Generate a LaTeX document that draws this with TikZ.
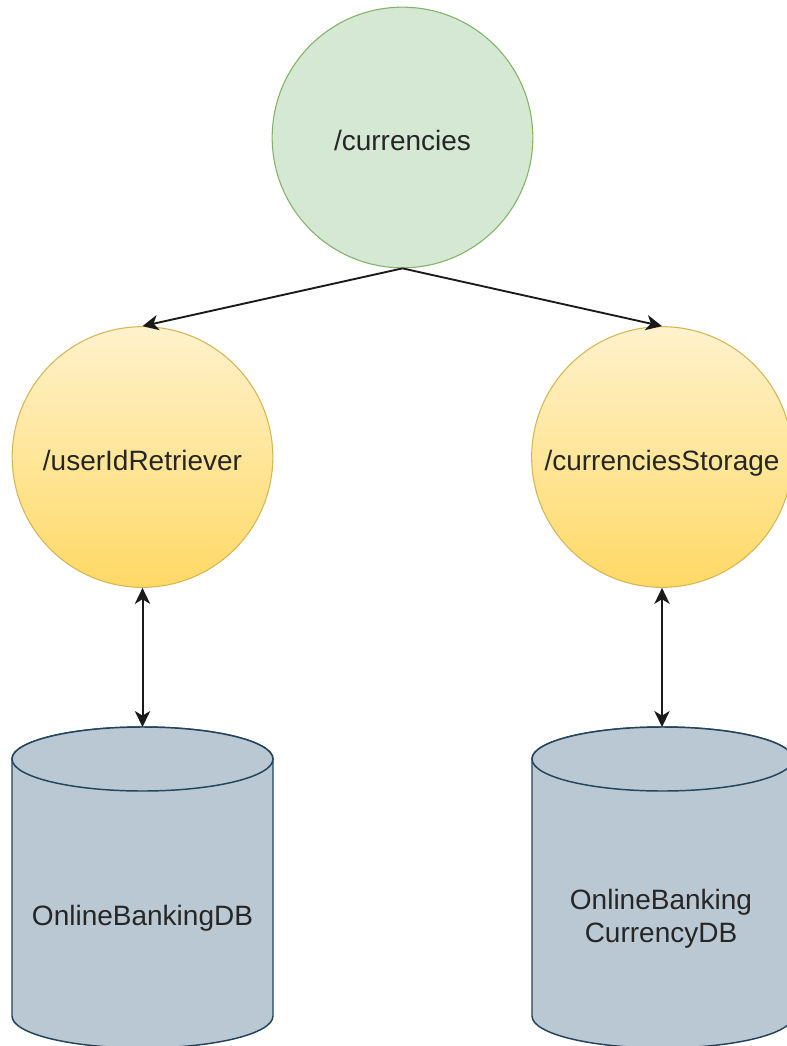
\documentclass[tikz,border=0pt]{standalone}
\usepackage{fontspec}
\setmainfont{Liberation Sans}
\usetikzlibrary{arrows.meta}
\definecolor{gfill}{HTML}{D5E8D4}
\definecolor{gline}{HTML}{82B366}
\definecolor{ytop}{HTML}{FFF2CC}
\definecolor{ybot}{HTML}{FFD966}
\definecolor{yline}{HTML}{D6B656}
\definecolor{cfill}{HTML}{BAC8D3}
\definecolor{cline}{HTML}{23445D}
\definecolor{txt}{HTML}{262626}
\definecolor{arr}{HTML}{1A1A1A}
\tikzset{
  lbl/.style={text=txt, font=\fontsize{21}{24.75}\selectfont, align=center, inner sep=0pt},
  circlbl/.style={lbl, text height=24pt, text depth=4pt},
  green circle/.style={circle, draw=gline, fill=gfill, line width=0.8pt, minimum size=195.5pt, inner sep=0pt, circlbl},
  yellow circle/.style={circle, draw=yline, top color=ytop, bottom color=ybot, line width=0.8pt, minimum size=195.5pt, inner sep=0pt, circlbl},
  cylbody/.style={fill=cfill, draw=cline, line width=1.1pt},
  conn/.style={draw=arr, line width=1.4pt, -{Stealth[length=12pt, width=11.5pt, inset=3.5pt]}},
  conn2/.style={draw=arr, line width=1.5pt, {Stealth[length=12pt, width=11.5pt, inset=3.5pt]}-{Stealth[length=12pt, width=11.5pt, inset=3.5pt]}}
}
\begin{document}
\begin{tikzpicture}[x=0.75pt, y=-0.75pt]
\useasboundingbox (0,0) rectangle (787,1046);
\clip (0,0) rectangle (787,1046);
\fill[white] (0,0) rectangle (787,1046);

% circles
\node[green circle] (cur) at (402.5,137.5) {/currencies};
\node[yellow circle] (uid) at (142.5,457) {/userIdRetriever};
\node[yellow circle] (cst) at (662,457) {/currenciesStorage};

% cylinder left
\path[cylbody] (12,759) -- (12,1016) arc[start angle=180, end angle=360, x radius=97.875pt, y radius=24pt] -- (273,759) arc[start angle=0, end angle=180, x radius=97.875pt, y radius=24pt] -- cycle;
\draw[cylbody] (142.5,759) ellipse [x radius=97.875pt, y radius=24pt];
\coordinate (db1t) at (142.5,727);
\node[lbl] (db1) at (142.5,918) {OnlineBankingDB};

% cylinder right
\path[cylbody] (532,759) -- (532,1016) arc[start angle=180, end angle=360, x radius=97.875pt, y radius=24pt] -- (793,759) arc[start angle=0, end angle=180, x radius=97.875pt, y radius=24pt] -- cycle;
\draw[cylbody] (662.5,759) ellipse [x radius=97.875pt, y radius=24pt];
\coordinate (db2t) at (662,727);
\node[lbl] (db2) at (661,919) {OnlineBanking\\CurrencyDB};

% connectors
\draw[conn] (cur.south) -- (uid.north);
\draw[conn] (cur.south) -- (cst.north);
\draw[conn2] (uid.south) -- (db1t);
\draw[conn2] (cst.south) -- (db2t);
\end{tikzpicture}
\end{document}
